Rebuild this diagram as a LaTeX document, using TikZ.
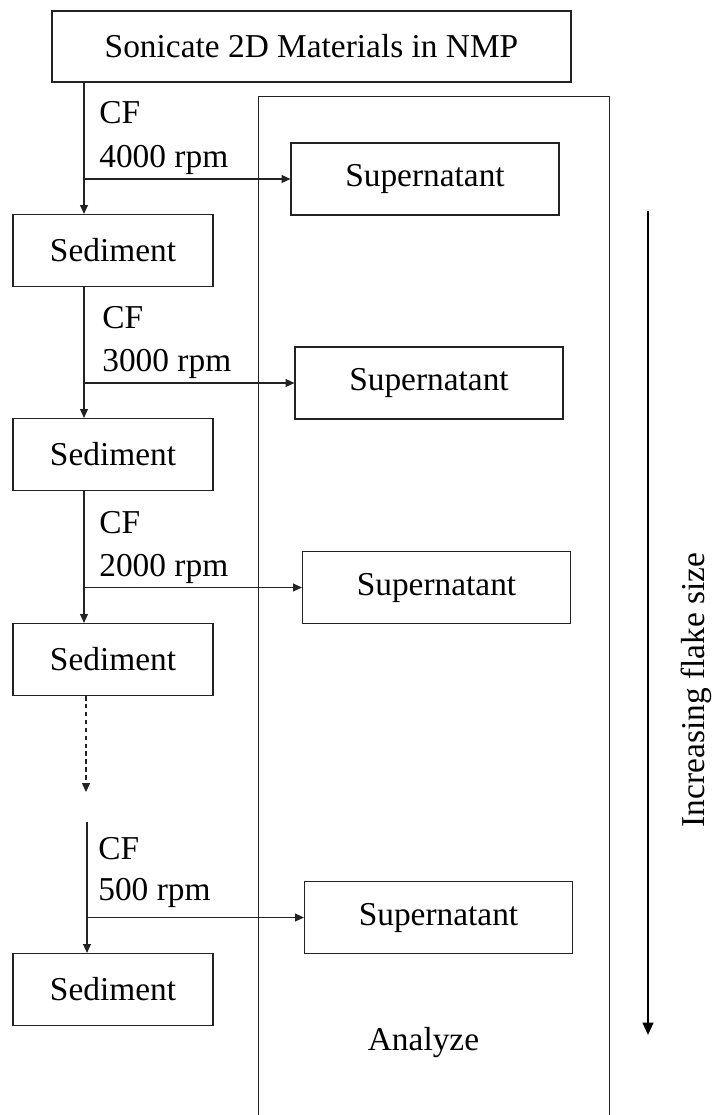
\documentclass[tikz,border=0pt]{standalone}
\usepackage{fontspec}
\setmainfont{Liberation Serif}
\usetikzlibrary{arrows.meta,positioning,calc}
\definecolor{edgegray}{RGB}{35,35,35}

\begin{document}
\begin{tikzpicture}[
  x=0.02cm, y=-0.02cm,
  every node/.style={font=\fontsize{19}{23}\selectfont},
  box/.style={draw=edgegray, line width=0.7pt, inner sep=0pt, minimum height=1.44cm},
  sedbox/.style={box, minimum width=4cm},
  supbox/.style={box, minimum width=5.36cm},
  lbl/.style={anchor=base west, inner sep=0pt},
  flow/.style={-{Triangle[length=5pt,width=4.5pt]}, line width=0.6pt, edgegray}
]
\useasboundingbox (0,0) rectangle (711,1115);
\clip (0,0) rectangle (711,1115);

% analysis frame, runs off the bottom
\node[draw=edgegray, line width=0.7pt, inner sep=0pt, anchor=north west,
  minimum width=7.02cm, minimum height=20.8cm] (frame) at (258,96) {};
\node[anchor=base] (analyze) at (423.5,1050) {Analyze};

\node[box, minimum width=10.38cm, minimum height=1.42cm] (src) at (311.5,46.5) {Sonicate 2D Materials in NMP};

\node[sedbox] (sed1) at (113,250.5) {Sediment};
\node[sedbox] (sed2) at (113,454.5) {Sediment};
\node[sedbox] (sed3) at (113,659.5) {Sediment};
\node[sedbox] (sed4) at (113,989.5) {Sediment};

\node[supbox] (sup1) at (425,179) {Supernatant};
\node[supbox] (sup2) at (429,383) {Supernatant};
\node[supbox] (sup3) at (436.5,587.5) {Supernatant};
\node[supbox] (sup4) at (438.5,917.5) {Supernatant};

\node[lbl] (cf1) at (99,124) {CF};
\node[lbl] (rpm1) at (99,167) {4000 rpm};
\node[lbl] (cf2) at (102,328) {CF};
\node[lbl] (rpm2) at (102,371) {3000 rpm};
\node[lbl] (cf3) at (99,533) {CF};
\node[lbl] (rpm3) at (99,576) {2000 rpm};
\node[lbl] (cf4) at (98,859) {CF};
\node[lbl] (rpm4) at (98,900) {500 rpm};

\coordinate (j1) at (84,179);
\coordinate (j2) at (84,383);
\coordinate (j3) at (84,587.5);
\coordinate (gap) at (86,792);
\coordinate (top4) at (87,822);
\coordinate (j4) at (87,917.5);

\draw[flow] (src.south -| j1) -- (sed1.north -| j1);
\draw[flow] (j1) -- (j1 -| sup1.west);
\draw[flow] (sed1.south -| j2) -- (sed2.north -| j2);
\draw[flow] (j2) -- (j2 -| sup2.west);
\draw[flow] (sed2.south -| j3) -- (sed3.north -| j3);
\draw[flow] (j3) -- (j3 -| sup3.west);
\draw[flow, dash pattern=on 2.5pt off 2pt] (sed3.south -| gap) -- (gap);
\draw[flow] (top4) -- (sed4.north -| top4);
\draw[flow] (j4) -- (j4 -| sup4.west);

% size trend
\coordinate (trendtop) at (648,211);
\coordinate (trendend) at (648,1035);
\draw[-{Triangle[length=7pt,width=6pt]}, line width=1.3pt] (trendtop) -- (trendend);
\node[rotate=90, anchor=base] (flake) at (704,690) {Increasing flake size};
\end{tikzpicture}
\end{document}
